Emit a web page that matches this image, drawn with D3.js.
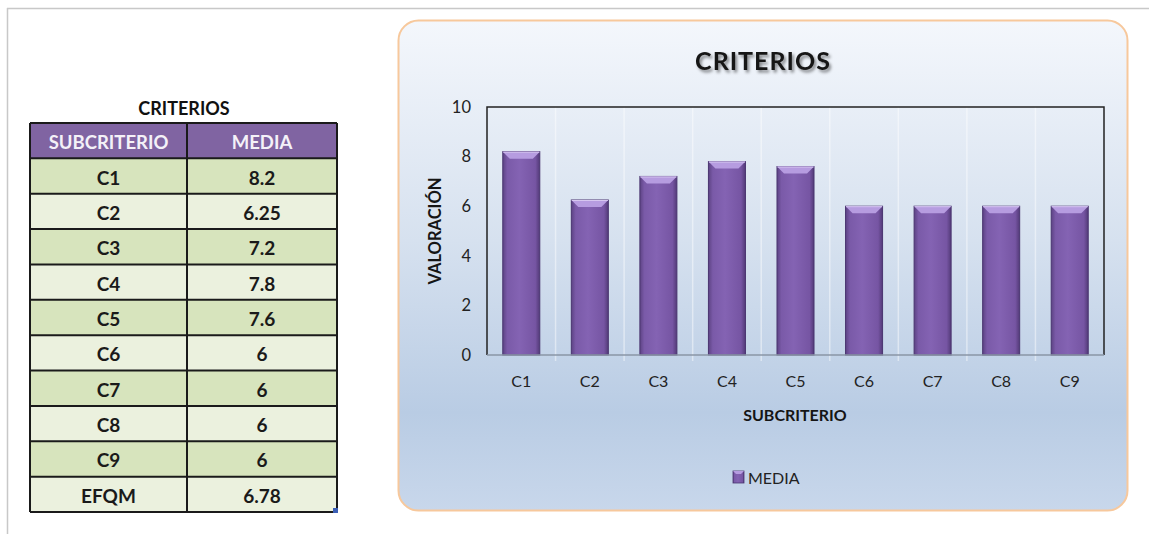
<!DOCTYPE html>
<html>
<head>
<meta charset="utf-8">
<script src="https://cdn.jsdelivr.net/npm/d3@7"></script>
<style>
  html, body { margin: 0; padding: 0; background: #ffffff; }
  svg { display: block; }
</style>
</head>
<body>
<svg id="sheet" width="1149" height="534"></svg>
<script>
// Subcriteria and their mean scores
const categories = ["C1", "C2", "C3", "C4", "C5", "C6", "C7", "C8", "C9"];
const media = [8.2, 6.25, 7.2, 7.8, 7.6, 6, 6, 6, 6];
const mediaLabels = ["8.2", "6.25", "7.2", "7.8", "7.6", "6", "6", "6", "6"];
const totalLabel = "EFQM";
const totalValue = "6.78";
const yTicks = [0, 2, 4, 6, 8, 10];
const tableHeaders = ["SUBCRITERIO", "MEDIA"];
const seriesName = "MEDIA";

const svg = d3.select("#sheet");
const defs = svg.append("defs");
const FONT = "Lato, 'Open Sans', sans-serif";

// Sheet frame lines
svg.append("line").attr("x1", 7).attr("x2", 1149).attr("y1", 8.5).attr("y2", 8.5)
  .attr("stroke", "#c8c8c8").attr("stroke-width", 1.5);
svg.append("line").attr("x1", 7.5).attr("x2", 7.5).attr("y1", 8).attr("y2", 534)
  .attr("stroke", "#c8c8c8").attr("stroke-width", 1.5);

// ---------- Table ----------
const rows = categories.map((c, i) => ({ name: c, value: mediaLabels[i] }));
rows.push({ name: totalLabel, value: totalValue });

const tX = d3.scaleOrdinal().domain([0, 1]).range([30, 187]);
const colW = [157, 150];
const tY = d3.scaleBand().domain(d3.range(rows.length + 1)).range([123, 512]);

svg.append("text").attr("x", 184).attr("y", 108).attr("text-anchor", "middle")
  .attr("dominant-baseline", "central").attr("font-family", FONT).attr("font-weight", 700)
  .attr("font-size", 18).attr("fill", "#111").text("CRITERIOS");

const table = svg.append("g");
// header
tableHeaders.forEach((h, j) => {
  table.append("rect").attr("x", tX(j)).attr("y", tY(0)).attr("width", colW[j])
    .attr("height", tY.bandwidth()).attr("fill", "#8064a2");
  table.append("text").attr("x", tX(j) + colW[j] / 2).attr("y", tY(0) + tY.bandwidth() / 2 + 1)
    .attr("text-anchor", "middle").attr("dominant-baseline", "central")
    .attr("font-family", FONT).attr("font-weight", 700).attr("font-size", 18.5)
    .attr("fill", "#f4f1f8").text(h);
});
rows.forEach((r, i) => {
  const y = tY(i + 1);
  const fill = i % 2 === 0 ? "#d7e4bd" : "#ebf1de";
  [r.name, r.value].forEach((t, j) => {
    table.append("rect").attr("x", tX(j)).attr("y", y).attr("width", colW[j])
      .attr("height", tY.bandwidth()).attr("fill", fill);
    table.append("text").attr("x", tX(j) + colW[j] / 2).attr("y", y + tY.bandwidth() / 2 + 1)
      .attr("text-anchor", "middle").attr("dominant-baseline", "central")
      .attr("font-family", FONT).attr("font-weight", 700).attr("font-size", 19)
      .attr("fill", "#1a1a1a").text(t);
  });
});
// grid lines
d3.range(rows.length + 2).forEach(k => {
  const y = k <= rows.length ? tY(k) : 512;
  table.append("line").attr("x1", 30).attr("x2", 337).attr("y1", y).attr("y2", y)
    .attr("stroke", "#1a1a1a").attr("stroke-width", 2);
});
[30, 187, 337].forEach(x => {
  table.append("line").attr("x1", x).attr("x2", x).attr("y1", 123).attr("y2", 512)
    .attr("stroke", "#1a1a1a").attr("stroke-width", 2);
});
// fill handle
table.append("rect").attr("x", 333).attr("y", 508).attr("width", 5).attr("height", 5).attr("fill", "#3b5fb5");

// ---------- Chart ----------
const bg = defs.append("linearGradient").attr("id", "chartBg").attr("x1", 0).attr("y1", 0).attr("x2", 0).attr("y2", 1);
bg.append("stop").attr("offset", "0%").attr("stop-color", "#f4f7fc");
bg.append("stop").attr("offset", "45%").attr("stop-color", "#d6e1ef");
bg.append("stop").attr("offset", "80%").attr("stop-color", "#b9cce4");
bg.append("stop").attr("offset", "100%").attr("stop-color", "#c8d7eb");

svg.append("rect").attr("x", 398.5).attr("y", 20.5).attr("width", 729).attr("height", 490)
  .attr("rx", 20).attr("ry", 20).attr("fill", "url(#chartBg)")
  .attr("stroke", "#f7c89c").attr("stroke-width", 2);

const shadow = defs.append("filter").attr("id", "titleShadow").attr("x", "-10%").attr("y", "-30%")
  .attr("width", "130%").attr("height", "180%");
shadow.append("feDropShadow").attr("dx", 2).attr("dy", 2.5).attr("stdDeviation", 1.6)
  .attr("flood-color", "#000").attr("flood-opacity", 0.45);

svg.append("text").attr("x", 763).attr("y", 60).attr("text-anchor", "middle")
  .attr("dominant-baseline", "central").attr("font-family", FONT).attr("font-weight", 700)
  .attr("font-size", 25).attr("fill", "#151515").attr("filter", "url(#titleShadow)")
  .attr("letter-spacing", 1).text("CRITERIOS");

const plot = { left: 487, right: 1104, top: 107, bottom: 355 };
const x = d3.scaleBand().domain(categories).range([plot.left, plot.right]).paddingInner(0.46).paddingOuter(0.23);
const xb = d3.scaleBand().domain(categories).range([plot.left, plot.right]);
const y = d3.scaleLinear().domain([0, 10]).range([plot.bottom, plot.top]);

// faint category separators
categories.slice(1).forEach(c => {
  svg.append("line").attr("x1", xb(c)).attr("x2", xb(c)).attr("y1", plot.top).attr("y2", plot.bottom + 6)
    .attr("stroke", "#ffffff").attr("stroke-opacity", 0.45).attr("stroke-width", 1.5);
});

// bars with bevelled top
const barGrad = defs.append("linearGradient").attr("id", "barGrad").attr("x1", 0).attr("y1", 0).attr("x2", 1).attr("y2", 0);
barGrad.append("stop").attr("offset", "0%").attr("stop-color", "#5d4384");
barGrad.append("stop").attr("offset", "12%").attr("stop-color", "#7a5aa8");
barGrad.append("stop").attr("offset", "45%").attr("stop-color", "#8463b3");
barGrad.append("stop").attr("offset", "88%").attr("stop-color", "#7655a3");
barGrad.append("stop").attr("offset", "100%").attr("stop-color", "#533a78");

const bars = svg.append("g").selectAll("g").data(categories).join("g");
bars.append("rect")
  .attr("x", c => x(c)).attr("width", x.bandwidth())
  .attr("y", (c, i) => y(media[i])).attr("height", (c, i) => y(0) - y(media[i]))
  .attr("fill", "url(#barGrad)").attr("stroke", "#4a3570").attr("stroke-width", 1);
bars.append("path")
  .attr("d", (c, i) => {
    const x0 = x(c), x1 = x(c) + x.bandwidth(), t = y(media[i]), b = 7;
    return `M${x0},${t}L${x1},${t}L${x1 - b},${t + b}L${x0 + b},${t + b}Z`;
  })
  .attr("fill", "#b69ce0");
bars.append("path")
  .attr("d", (c, i) => {
    const x0 = x(c), t = y(media[i]);
    return `M${x0 + 0.5},${t + 0.5}L${x(c) + x.bandwidth() - 0.5},${t + 0.5}`;
  })
  .attr("stroke", "#d6c6f0").attr("stroke-width", 1);

// plot frame (left, top, right) and baseline
svg.append("path").attr("d", `M${plot.left},${plot.bottom}V${plot.top}H${plot.right}V${plot.bottom}`)
  .attr("fill", "none").attr("stroke", "#222").attr("stroke-width", 1.5);
svg.append("line").attr("x1", plot.left).attr("x2", plot.right).attr("y1", plot.bottom).attr("y2", plot.bottom)
  .attr("stroke", "#8a96a6").attr("stroke-width", 1.5);

// axes
const yAxis = svg.append("g").attr("transform", `translate(${plot.left},0)`)
  .call(d3.axisLeft(y).tickValues(yTicks).tickSize(0).tickPadding(16));
yAxis.select(".domain").remove();
yAxis.selectAll("text").attr("font-family", FONT).attr("font-size", 16.5).attr("fill", "#222");

const xAxis = svg.append("g").attr("transform", `translate(0,${plot.bottom})`)
  .call(d3.axisBottom(xb).tickSize(0).tickPadding(21));
xAxis.select(".domain").remove();
xAxis.selectAll("text").attr("font-family", FONT).attr("font-size", 16).attr("fill", "#222");

// axis titles
svg.append("text").attr("x", 795).attr("y", 414).attr("text-anchor", "middle")
  .attr("dominant-baseline", "central").attr("font-family", FONT).attr("font-weight", 700)
  .attr("font-size", 16).attr("fill", "#151515").text("SUBCRITERIO");
svg.append("text").attr("transform", "translate(435,231) rotate(-90)").attr("text-anchor", "middle")
  .attr("dominant-baseline", "central").attr("font-family", FONT).attr("font-weight", 700)
  .attr("font-size", 16.5).attr("fill", "#151515").text("VALORACIÓN");

// legend
const lg = svg.append("g").attr("transform", "translate(733,471)");
lg.append("rect").attr("width", 11).attr("height", 12).attr("fill", "url(#barGrad)").attr("stroke", "#4a3570").attr("stroke-width", 0.8);
lg.append("path").attr("d", "M0,0H11L8,3H3Z").attr("fill", "#b69ce0");
lg.append("text").attr("x", 15).attr("y", 6.5).attr("dominant-baseline", "central")
  .attr("font-family", FONT).attr("font-size", 16).attr("fill", "#222").text(seriesName);
</script>
</body>
</html>
